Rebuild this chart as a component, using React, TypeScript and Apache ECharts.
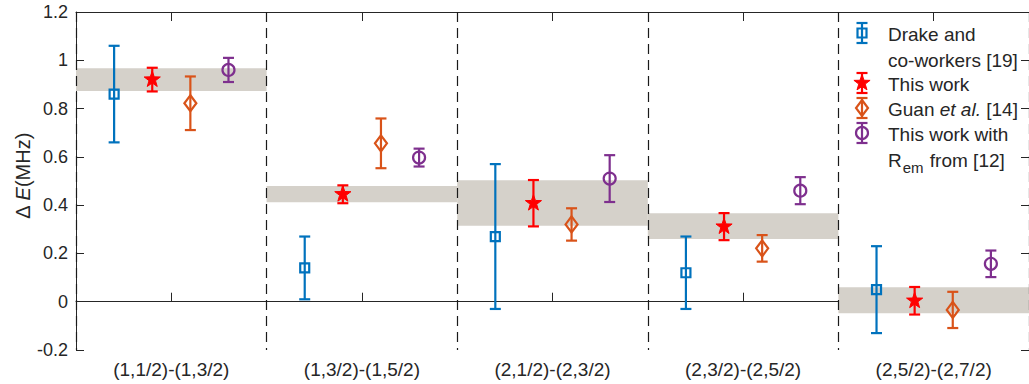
import React, { useEffect, useRef } from 'react';
import * as echarts from 'echarts';

const categories = ['(1,1/2)-(1,3/2)', '(1,3/2)-(1,5/2)', '(2,1/2)-(2,3/2)', '(2,3/2)-(2,5/2)', '(2,5/2)-(2,7/2)'];

const drakeValues = [0.86, 0.14, 0.27, 0.12, 0.05];
const drakeErrors = [0.2, 0.13, 0.3, 0.15, 0.18];
const thisWorkValues = [0.92, 0.445, 0.408, 0.311, 0.004];
const thisWorkErrors = [0.049, 0.037, 0.096, 0.056, 0.057];
const guanValues = [0.822, 0.656, 0.32, 0.221, -0.034];
const guanErrors = [0.111, 0.103, 0.067, 0.055, 0.075];
const remValues = [0.96, 0.597, 0.51, 0.46, 0.157];
const remErrors = [0.05, 0.037, 0.097, 0.056, 0.055];
const bandLow = [0.873, 0.412, 0.315, 0.26, -0.048];
const bandHigh = [0.967, 0.479, 0.503, 0.366, 0.06];

const yTicks = { min: -0.2, max: 1.2, interval: 0.2 };

const FONT = '"Liberation Sans", Arial, Helvetica, sans-serif';
const TEXT = '#262626';
const FS = 19;
const TICK_FS = 18;
const NAME_FS = 20;

type Kind = 'square' | 'star' | 'diamond' | 'circle';

const seriesDefs: { name: string; values: number[]; errors: number[]; offset: number; color: string; marker: Kind }[] = [
  { name: 'Drake and co-workers [19]', values: drakeValues, errors: drakeErrors, offset: -0.3, color: '#0072BD', marker: 'square' },
  { name: 'This work', values: thisWorkValues, errors: thisWorkErrors, offset: -0.1, color: '#FF0000', marker: 'star' },
  { name: 'Guan et al. [14]', values: guanValues, errors: guanErrors, offset: 0.1, color: '#D95319', marker: 'diamond' },
  { name: 'This work with Rem from [12]', values: remValues, errors: remErrors, offset: 0.3, color: '#7E2F8E', marker: 'circle' },
];

function starPoints(cx: number, cy: number, R: number, r: number) {
  const pts: number[][] = [];
  for (let k = 0; k < 10; k++) {
    const a = -Math.PI / 2 + (k * Math.PI) / 5;
    const rad = k % 2 === 0 ? R : r;
    pts.push([cx + rad * Math.cos(a), cy + rad * Math.sin(a)]);
  }
  return pts;
}

function markerShape(kind: Kind, x: number, y: number, color: string): any {
  switch (kind) {
    case 'square':
      return { type: 'rect', shape: { x: x - 4.5, y: y - 4.5, width: 9, height: 9 }, style: { fill: 'none', stroke: color, lineWidth: 2.2 } };
    case 'star':
      return { type: 'polygon', shape: { points: starPoints(x, y, 8.5, 3.4) }, style: { fill: color, stroke: color, lineWidth: 1 } };
    case 'diamond':
      return { type: 'polygon', shape: { points: [[x, y - 8], [x + 6, y], [x, y + 8], [x - 6, y]] }, style: { fill: 'none', stroke: color, lineWidth: 2.2 } };
    default:
      return { type: 'circle', shape: { cx: x, cy: y, r: 6 }, style: { fill: 'none', stroke: color, lineWidth: 2.2 } };
  }
}

function errorBar(x: number, yTop: number, yBottom: number, yMid: number, color: string, kind: Kind): any[] {
  const cap = 5.5;
  const st = { stroke: color, lineWidth: 2.2 };
  return [
    { type: 'line', shape: { x1: x, y1: yTop, x2: x, y2: yBottom }, style: st },
    { type: 'line', shape: { x1: x - cap, y1: yTop, x2: x + cap, y2: yTop }, style: st },
    { type: 'line', shape: { x1: x - cap, y1: yBottom, x2: x + cap, y2: yBottom }, style: st },
    markerShape(kind, x, yMid, color),
  ];
}

const legendRows = [
  { iconY: 33, iconHalf: 10, def: 0, lines: [{ y: 34, text: 'Drake and' }, { y: 60, text: 'co-workers [19]' }] },
  { iconY: 83, iconHalf: 10, def: 1, lines: [{ y: 84, text: 'This work' }] },
  { iconY: 108, iconHalf: 10, def: 2, lines: [{ y: 109, text: '{n|Guan }{i|et al.}{n| [14]}' }] },
  { iconY: 133, iconHalf: 10, def: 3, lines: [{ y: 134, text: 'This work with' }, { y: 160, text: '{n|R}{s|em}{n| from [12]}' }] },
];

const richStyles = {
  n: { fontSize: FS, fontFamily: FONT, fill: TEXT, color: TEXT },
  i: { fontSize: FS, fontFamily: FONT, fontStyle: 'italic', fill: TEXT, color: TEXT },
  s: { fontSize: 15, fontFamily: FONT, fill: TEXT, color: TEXT, padding: [14, 1, 0, 1] },
};

export default function App() {
  const ref = useRef<HTMLDivElement>(null);
  useEffect(() => {
    if (!ref.current) return;
    const chart = echarts.init(ref.current, undefined, { renderer: 'svg' });

    const bandSeries: any = {
      type: 'custom',
      xAxisIndex: 0,
      yAxisIndex: 0,
      z: 1,
      data: bandLow.map((lo, i) => [i, lo, bandHigh[i]]),
      encode: { x: 0, y: [1, 2] },
      renderItem: (params: any, api: any) => {
        const idx = api.value(0);
        const w = api.size([1, 0])[0];
        const lo = api.coord([idx, api.value(1)]);
        const hi = api.coord([idx, api.value(2)]);
        return {
          type: 'rect',
          shape: { x: lo[0] - w / 2, y: hi[1], width: w, height: lo[1] - hi[1] },
          style: { fill: '#d5d1ca' },
        };
      },
    };

    const errSeries = seriesDefs.map((d) => ({
      type: 'custom',
      name: d.name,
      xAxisIndex: 0,
      yAxisIndex: 0,
      z: 5,
      data: d.values.map((v, i) => [i, v, v - d.errors[i], v + d.errors[i]]),
      encode: { x: 0, y: [1, 2, 3] },
      renderItem: (params: any, api: any) => {
        const idx = api.value(0);
        const w = api.size([1, 0])[0];
        const c = api.coord([idx, api.value(1)]);
        const lo = api.coord([idx, api.value(2)]);
        const hi = api.coord([idx, api.value(3)]);
        const x = c[0] + d.offset * w;
        return { type: 'group', children: errorBar(x, hi[1], lo[1], c[1], d.color, d.marker) };
      },
    }));

    const legendGraphics: any[] = [];
    legendRows.forEach((row) => {
      const d = seriesDefs[row.def];
      legendGraphics.push({
        type: 'group',
        children: errorBar(862, row.iconY - row.iconHalf, row.iconY + row.iconHalf, row.iconY, d.color, d.marker),
      });
      row.lines.forEach((ln) => {
        legendGraphics.push({
          type: 'text',
          x: 888,
          y: ln.y,
          style: {
            text: ln.text,
            rich: richStyles,
            font: `${FS}px ${FONT}`,
            fill: TEXT,
            align: 'left',
            verticalAlign: 'middle',
          },
        });
      });
    });

    const option: any = {
      animation: false,
      backgroundColor: '#ffffff',
      textStyle: { fontFamily: FONT },
      grid: { left: 76, right: -3, top: 12, bottom: 34, containLabel: false },
      xAxis: [
        {
          type: 'category',
          data: categories,
          position: 'bottom',
          axisLine: { show: true, lineStyle: { color: TEXT, width: 1 } },
          axisTick: { show: true, inside: true, alignWithLabel: true, length: 9, lineStyle: { color: TEXT } },
          axisLabel: { color: TEXT, fontSize: FS, fontFamily: FONT, margin: 10 },
          splitLine: { show: false },
        },
        {
          type: 'value',
          min: 0,
          max: 5,
          interval: 1,
          position: 'bottom',
          z: 3,
          axisLine: { show: false },
          axisTick: { show: false },
          axisLabel: { show: false },
          splitLine: { show: true, lineStyle: { color: '#1a1a1a', width: 1.2, type: [10, 6] } },
        },
        {
          type: 'category',
          data: categories,
          position: 'top',
          axisLine: { show: true, lineStyle: { color: TEXT, width: 1 } },
          axisTick: { show: true, inside: true, alignWithLabel: true, length: 9, lineStyle: { color: TEXT } },
          axisLabel: { show: false },
          splitLine: { show: false },
        },
      ],
      yAxis: [
        {
          type: 'value',
          min: yTicks.min,
          max: yTicks.max,
          interval: yTicks.interval,
          position: 'left',
          name: '{a|Δ }{b|E}{a|(MHz)}',
          nameLocation: 'middle',
          nameRotate: 90,
          nameGap: 43,
          nameMoveOverlap: false,
          nameTextStyle: {
            padding: [0, 0, 0, 10],
            rich: {
              a: { fontSize: NAME_FS, fontFamily: FONT, color: TEXT },
              b: { fontSize: NAME_FS, fontFamily: FONT, color: TEXT, fontStyle: 'italic' },
            },
          },
          axisLine: { show: true, lineStyle: { color: TEXT, width: 1 } },
          axisTick: { show: true, inside: true, length: 8, lineStyle: { color: TEXT } },
          axisLabel: { color: TEXT, fontSize: TICK_FS, fontFamily: FONT, margin: 8 },
          splitLine: { show: false },
        },
        {
          type: 'value',
          min: yTicks.min,
          max: yTicks.max,
          interval: yTicks.interval,
          position: 'right',
          axisLine: { show: true, lineStyle: { color: TEXT, width: 1 } },
          axisTick: { show: true, inside: true, length: 8, lineStyle: { color: TEXT } },
          axisLabel: { show: false },
          splitLine: { show: false },
        },
      ],
      series: [bandSeries, ...errSeries],
      graphic: legendGraphics,
    };

    chart.setOption(option);
    return () => chart.dispose();
  }, []);

  return <div ref={ref} style={{ position: 'fixed', left: 0, top: 0, width: 1029, height: 384 }} />;
}
